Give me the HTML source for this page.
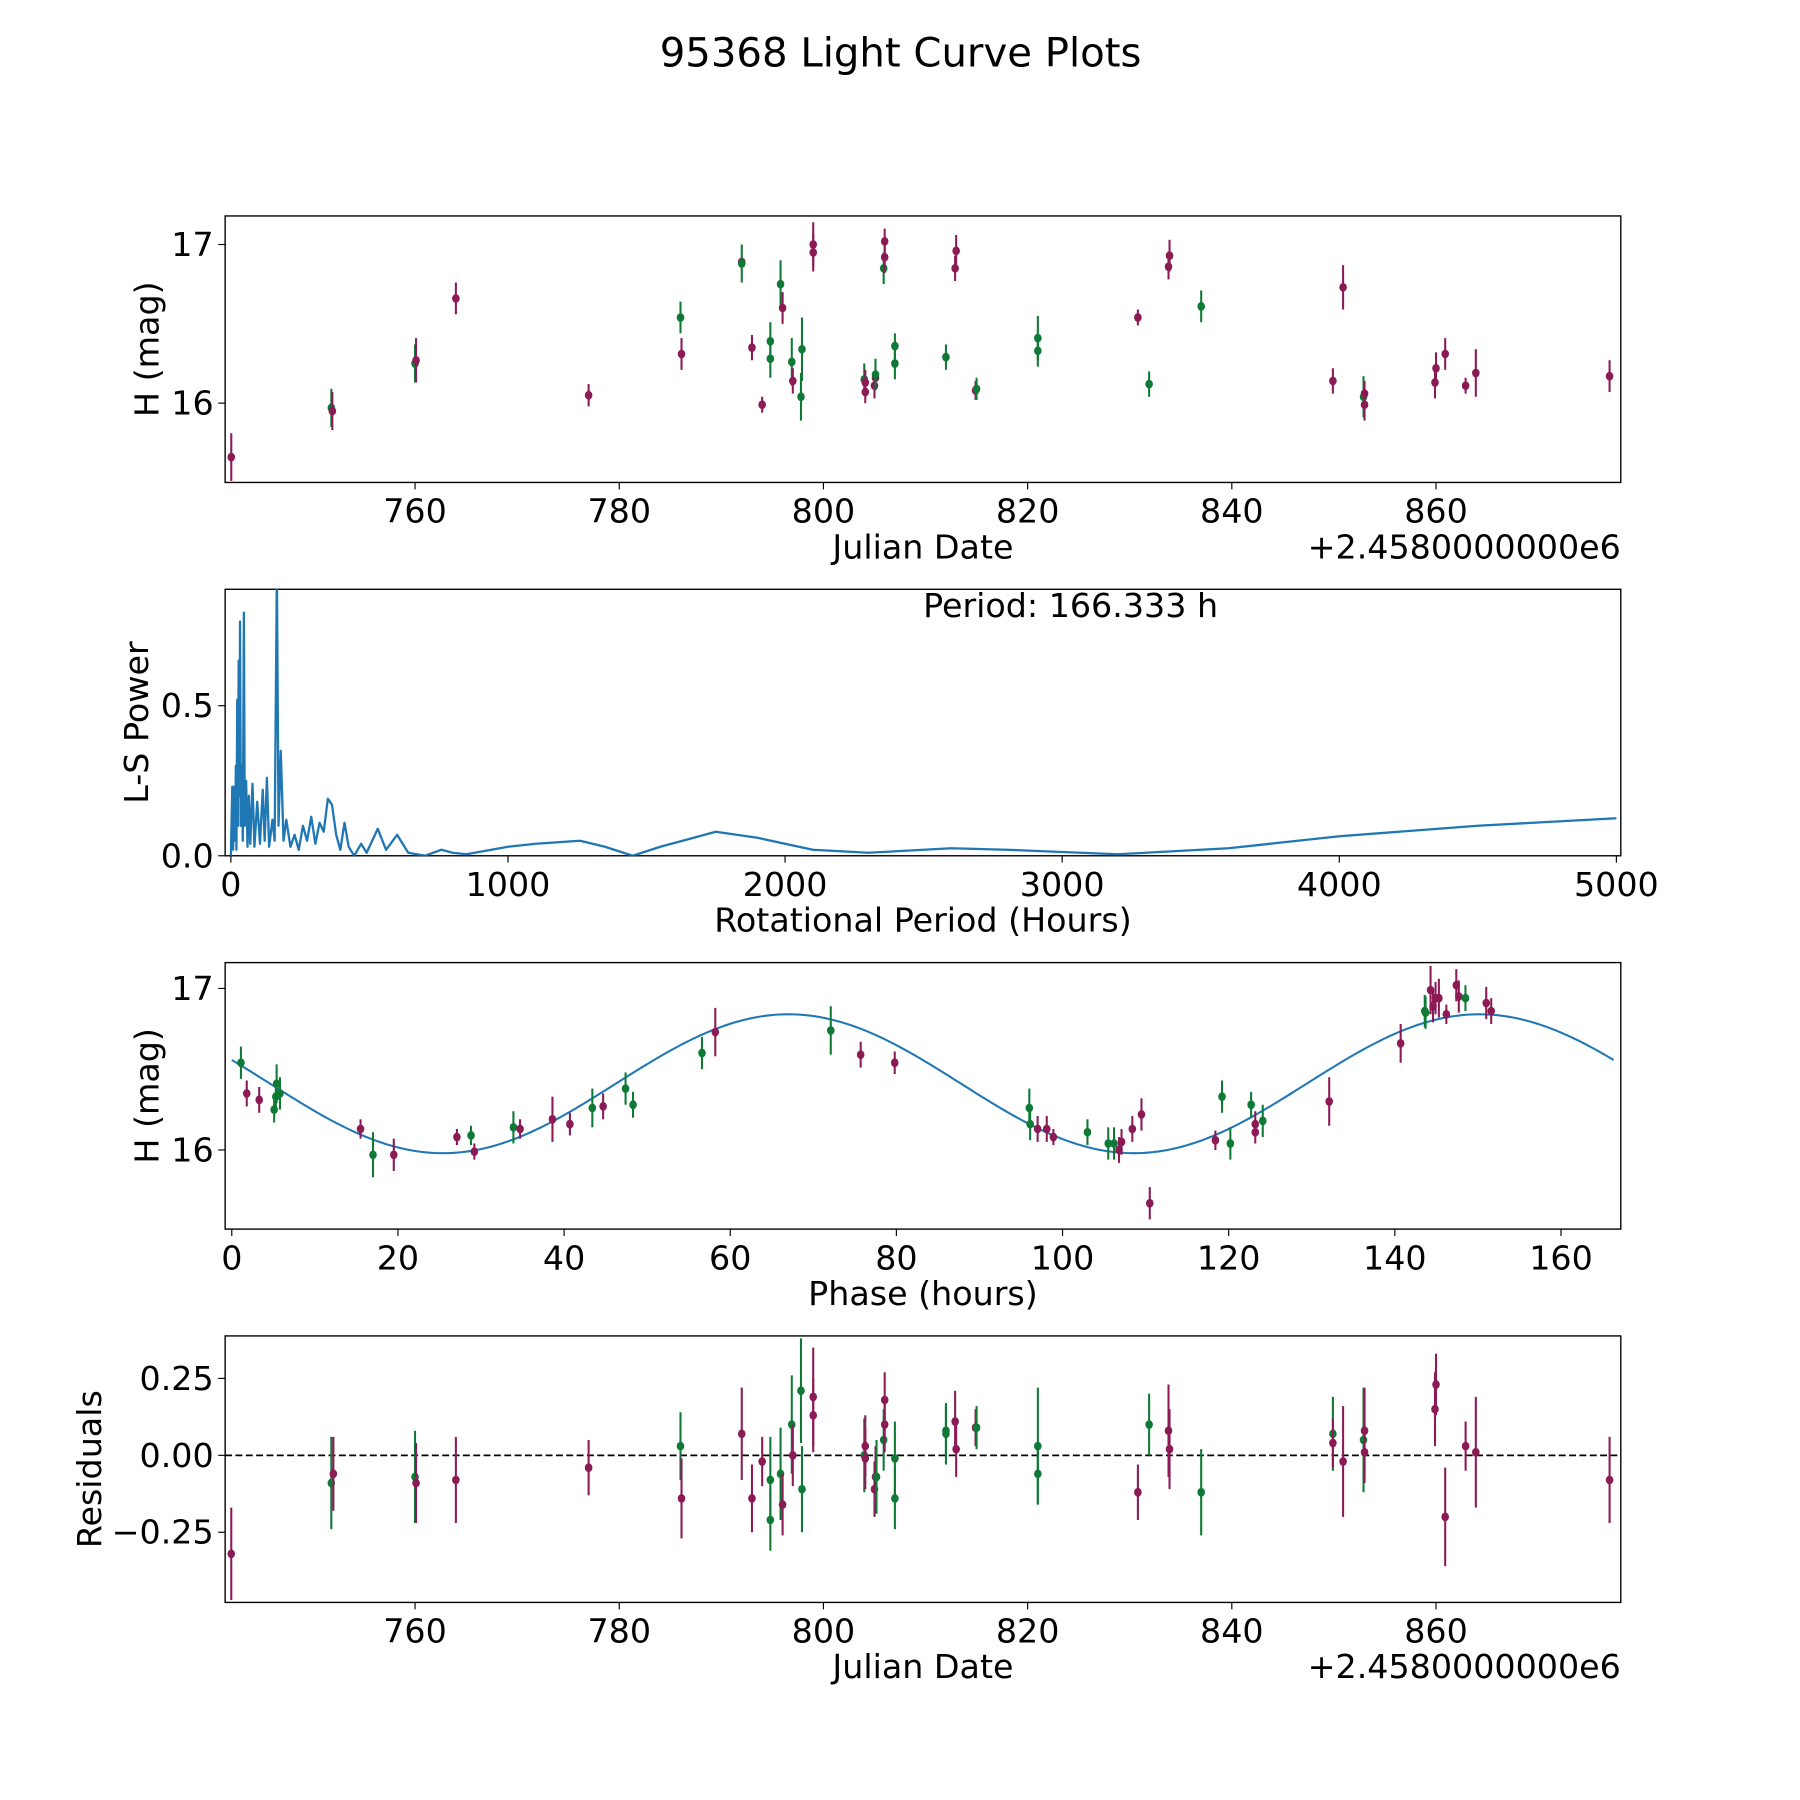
<!DOCTYPE html>
<html><head><meta charset="utf-8"><style>html,body{margin:0;padding:0;background:#fff}svg{display:block}text{font-family:"DejaVu Sans","Liberation Sans",sans-serif;fill:#000}</style></head>
<body>
<svg id="fig" width="1800" height="1800" viewBox="0 0 1567 1567" xmlns="http://www.w3.org/2000/svg">
<rect width="1567" height="1567" fill="#fff"/>
<text x="784" y="58" font-size="35" text-anchor="middle">95368 Light Curve Plots</text>
</svg>
<script>
// Panel 1: light curve vs date
const lcDates=[742.0,751.8,751.9,760.0,760.1,764.0,777.0,786.0,786.1,792.0,792.0,793.0,794.0,794.8,794.8,795.8,796.0,796.9,797.0,797.8,797.9,799.0,799.0,804.0,804.1,804.1,805.0,805.1,805.1,805.9,806.0,806.0,807.0,807.0,812.0,812.9,813.0,814.9,815.0,821.0,821.0,830.8,831.9,833.8,833.9,837.0,849.9,850.9,852.9,853.0,853.0,859.9,860.0,860.9,862.9,863.9,877.0];
const lcMag=[15.66,15.97,15.95,16.25,16.27,16.66,16.05,16.54,16.31,16.89,16.88,16.35,15.99,16.28,16.39,16.75,16.60,16.26,16.14,16.04,16.34,17.00,16.95,16.15,16.13,16.07,16.11,16.16,16.18,16.85,16.92,17.02,16.25,16.36,16.29,16.85,16.96,16.08,16.09,16.33,16.41,16.54,16.12,16.86,16.93,16.61,16.14,16.73,16.04,16.06,15.99,16.13,16.22,16.31,16.11,16.19,16.17];
const lcErr=[0.15,0.12,0.12,0.12,0.14,0.1,0.07,0.1,0.1,0.03,0.12,0.08,0.05,0.12,0.12,0.15,0.1,0.15,0.08,0.15,0.2,0.14,0.12,0.1,0.08,0.07,0.08,0.08,0.1,0.1,0.1,0.08,0.1,0.08,0.08,0.08,0.1,0.06,0.07,0.1,0.14,0.05,0.08,0.08,0.1,0.1,0.08,0.14,0.13,0.08,0.1,0.1,0.1,0.1,0.05,0.15,0.1];
const lcBand=["m","g","m","g","m","m","m","g","m","m","g","m","m","g","g","g","m","g","m","g","g","m","m","g","m","m","m","m","g","g","m","m","g","g","g","m","m","m","g","g","g","m","g","m","m","g","m","m","g","m","m","m","m","m","m","m","m"];
// Panel 2: periodogram
const lsPeriod=[0,5,8,12,15,18,20,23,26,28,31,33,36,40,43,47,50,55,60,65,70,78,85,95,105,115,122,130,138,150,158,166,172,180,190,200,215,230,245,260,275,290,305,320,335,350,365,380,395,410,425,445,470,490,530,560,600,640,700,760,800,850,1000,1100,1260,1350,1450,1550,1750,1900,2100,2300,2600,2800,3200,3600,4000,4500,5000];
const lsPower=[0,0.23,0.02,0.23,0.05,0.3,0.02,0.52,0.1,0.65,0.2,0.78,0.1,0.3,0.05,0.81,0.1,0.25,0.03,0.2,0.04,0.24,0.03,0.18,0.04,0.22,0.05,0.26,0.03,0.12,0.05,0.95,0.1,0.35,0.05,0.12,0.03,0.07,0.02,0.1,0.05,0.13,0.04,0.11,0.08,0.19,0.17,0.07,0.02,0.11,0.03,0.0,0.04,0.01,0.09,0.02,0.07,0.01,0.0,0.02,0.01,0.005,0.03,0.04,0.05,0.03,0.0,0.03,0.08,0.06,0.02,0.01,0.025,0.02,0.005,0.025,0.065,0.1,0.125];
// Panel 3: phased
const phPhase=[1.1,1.8,3.3,5.1,5.3,5.4,5.8,15.5,17.0,19.5,27.1,28.8,29.2,33.9,34.7,38.6,40.7,43.4,44.7,47.4,48.3,56.6,58.2,72.1,75.7,79.8,96.0,96.1,97.0,98.1,98.9,103.0,105.5,106.2,106.8,107.1,108.4,109.5,110.5,118.4,119.2,120.2,122.7,123.2,123.2,124.1,132.1,140.7,143.6,143.7,144.3,144.6,144.9,145.3,146.2,147.4,147.7,148.5,151.0,151.6];
const phMag=[16.54,16.35,16.31,16.25,16.33,16.41,16.35,16.13,15.97,15.97,16.08,16.09,15.99,16.14,16.13,16.19,16.16,16.26,16.27,16.38,16.28,16.60,16.73,16.74,16.59,16.54,16.26,16.16,16.13,16.13,16.08,16.11,16.04,16.04,16.00,16.05,16.13,16.22,15.67,16.06,16.33,16.04,16.28,16.16,16.11,16.18,16.30,16.66,16.86,16.85,16.99,16.89,16.94,16.94,16.84,17.02,16.95,16.94,16.91,16.86];
const phErr=[0.1,0.08,0.08,0.08,0.1,0.12,0.1,0.06,0.14,0.1,0.05,0.06,0.05,0.1,0.06,0.14,0.07,0.12,0.08,0.1,0.08,0.1,0.15,0.15,0.08,0.07,0.12,0.1,0.08,0.08,0.05,0.08,0.1,0.1,0.08,0.08,0.08,0.1,0.1,0.06,0.1,0.1,0.08,0.08,0.07,0.1,0.15,0.12,0.1,0.1,0.15,0.1,0.1,0.12,0.06,0.1,0.1,0.08,0.1,0.08];
const phBand=["g","m","m","g","g","g","g","m","g","m","m","g","m","g","m","m","m","g","m","g","g","g","m","g","m","m","g","g","m","m","m","g","g","g","m","m","m","m","m","m","g","g","g","m","m","g","m","m","g","g","m","m","m","m","m","m","m","g","m","m"];
const fitMean=16.41, fitAmp=0.43, fitPeak=67, fitHalfPeriod=83.17, fitPeriod=166.333;
// Panel 4: residuals
const resDates=[742.0,751.8,752.0,760.0,760.1,764.0,777.0,786.0,786.1,792.0,793.0,794.0,794.8,794.8,795.8,796.0,796.9,797.0,797.8,797.9,799.0,799.0,804.0,804.1,804.1,805.0,805.1,805.2,805.9,806.0,806.0,807.0,807.0,812.0,812.0,812.9,813.0,814.9,815.0,821.0,821.0,830.8,831.9,833.8,833.9,837.0,849.9,849.9,850.9,852.9,853.0,853.0,859.9,860.0,860.9,862.9,863.9,877.0];
const resVal=[-0.32,-0.09,-0.06,-0.07,-0.09,-0.08,-0.04,0.03,-0.14,0.07,-0.14,-0.02,-0.21,-0.08,-0.06,-0.16,0.10,0.00,0.21,-0.11,0.19,0.13,0.00,0.03,-0.01,-0.11,-0.07,-0.07,0.05,0.10,0.18,-0.01,-0.14,0.07,0.08,0.11,0.02,0.09,0.09,0.03,-0.06,-0.12,0.10,0.08,0.02,-0.12,0.07,0.04,-0.02,0.05,0.08,0.01,0.15,0.23,-0.20,0.03,0.01,-0.08];
const resErr=[0.15,0.15,0.12,0.15,0.13,0.14,0.09,0.11,0.13,0.15,0.11,0.08,0.1,0.14,0.15,0.1,0.16,0.1,0.17,0.14,0.16,0.12,0.12,0.1,0.1,0.09,0.1,0.12,0.1,0.09,0.09,0.12,0.1,0.1,0.08,0.1,0.09,0.06,0.07,0.19,0.1,0.09,0.1,0.15,0.13,0.14,0.12,0.08,0.18,0.17,0.14,0.1,0.12,0.1,0.16,0.08,0.18,0.14];
const resBand=["m","g","m","g","m","m","m","g","m","m","m","m","g","g","g","m","g","m","g","g","m","m","g","m","m","m","m","g","g","m","m","g","g","g","g","m","m","m","g","g","g","m","g","m","m","g","g","m","m","g","m","m","m","m","m","m","m","m"];
const dateTicks=[760,780,800,820,840,860];
const magTicks=[16,17];
const lsXTicks=[0,1000,2000,3000,4000,5000];
const lsYTicks=[0.0,0.5];
const phTicks=[0,20,40,60,80,100,120,140,160];
const resTicks=[-0.25,0.00,0.25];

const NS="http://www.w3.org/2000/svg";
const svg=document.getElementById('fig');
const COL={m:"#8b1a55",g:"#0f7a36"};
const FS=29;
function mk(tag,attrs,parent){const e=document.createElementNS(NS,tag);for(const k in attrs)e.setAttribute(k,attrs[k]);(parent||svg).appendChild(e);return e;}
const L=196,R=1411;
function scale(d0,d1,p0,p1){return v=>p0+(v-d0)/(d1-d0)*(p1-p0);}
function panel(name,top,bot,xs,ys,xt,yt,xfmt,yfmt,xlabel,ylabel,ylx,offset){
  const g=mk('g',{});
  
  
  const cp=mk('clipPath',{id:'clip-'+name},g);mk('rect',{x:L,y:top,width:R-L,height:bot-top},cp);
  const frame=mk('rect',{x:L,y:top,width:R-L,height:bot-top,fill:'none',stroke:'#000','stroke-width':1.2},g);
  
  
  xt.forEach(v=>{const x=xs(v);mk('line',{x1:x,x2:x,y1:bot,y2:bot+6,stroke:'#000','stroke-width':1},g);
    const t=mk('text',{x:x,y:bot+35,'font-size':FS,'text-anchor':'middle'},g);t.textContent=xfmt(v);
    
    });
  yt.forEach(v=>{const y=ys(v);mk('line',{x1:L-6,x2:L,y1:y,y2:y,stroke:'#000','stroke-width':1},g);
    const t=mk('text',{x:L-10,y:y+10,'font-size':FS,'text-anchor':'end'},g);t.textContent=yfmt(v);
    
    });
  const xl=mk('text',{x:(L+R)/2,y:bot+66,'font-size':FS,'text-anchor':'middle'},g);xl.textContent=xlabel;
  
  
  const cy=(top+bot)/2;
  const yl=mk('text',{x:ylx,y:cy,'font-size':FS,'text-anchor':'middle',transform:`rotate(-90 ${ylx} ${cy})`},g);yl.textContent=ylabel;
  
  
  if(offset){const o=mk('text',{x:R,y:bot+66,'font-size':FS,'text-anchor':'end'},g);o.textContent=offset;
    
    }
  return mk('g',{'clip-path':`url(#clip-${name})`},g);
}
function points(layer,xsArr,ysArr,es,bs,xs,ys){
  for(let i=0;i<xsArr.length;i++){const x=xs(xsArr[i]),y=ys(ysArr[i]),c=COL[bs[i]];
    const e=mk('line',{x1:x,x2:x,y1:ys(ysArr[i]-es[i]),y2:ys(ysArr[i]+es[i]),stroke:c,'stroke-width':1.8},layer);
    
    
    const p=mk('ellipse',{cx:x,cy:y,rx:3.3,ry:3.8,fill:c},layer);
    
    }
}
// Panel 1
{const xs=scale(741.4,878.1,L,R),ys=scale(15.5,17.18,420,188);
 const ly=panel('light-curve-panel',188,420,xs,ys,dateTicks,magTicks,v=>String(v),v=>String(v),'Julian Date','H (mag)',138,'+2.4580000000e6');
 points(ly,lcDates,lcMag,lcErr,lcBand,xs,ys);}
// Panel 2
{const xs=scale(-20.7,5016,L,R),ys=scale(0,0.888,745,513);
 const ly=panel('periodogram-panel',513,745,xs,ys,lsXTicks,lsYTicks,v=>String(v),v=>v.toFixed(1),'Rotational Period (Hours)','L-S Power',129,null);
 const d=lsPeriod.map((p,i)=>(i?'L':'M')+xs(p).toFixed(2)+' '+ys(lsPower[i]).toFixed(2)).join(' ');
 const pl=mk('path',{d:d,fill:'none',stroke:'#1f77b4','stroke-width':2,'stroke-linejoin':'round'},ly);
 
 
 const t=mk('text',{x:932,y:537,'font-size':FS,'text-anchor':'middle'});t.textContent='Period: '+fitPeriod.toFixed(3)+' h';
 
 }
// Panel 3
{const xs=scale(-0.8,167.2,L,R),ys=scale(15.51,17.16,1070,838);
 const ly=panel('phase-panel',838,1070,xs,ys,phTicks,magTicks,v=>String(v),v=>String(v),'Phase (hours)','H (mag)',138,null);
 let d='';for(let i=0;i<=300;i++){const p=fitPeriod*i/300;const h=fitMean+fitAmp*Math.cos(2*Math.PI*(p-fitPeak)/fitHalfPeriod);d+=(i?'L':'M')+xs(p).toFixed(2)+' '+ys(h).toFixed(2);}
 const fl=mk('path',{d:d,fill:'none',stroke:'#1f77b4','stroke-width':1.8},ly);
 
 
 points(ly,phPhase,phMag,phErr,phBand,xs,ys);}
// Panel 4
{const xs=scale(741.4,878.1,L,R),ys=scale(-0.478,0.388,1395,1163);
 const ly=panel('residuals-panel',1163,1395,xs,ys,dateTicks,resTicks,v=>String(v),v=>(v<0?'\u2212':'')+Math.abs(v).toFixed(2),'Julian Date','Residuals',88,'+2.4580000000e6');
 const z=mk('line',{x1:L,x2:R,y1:ys(0),y2:ys(0),stroke:'#000','stroke-width':1.5,'stroke-dasharray':'6 3'},ly);
 
 
 points(ly,resDates,resVal,resErr,resBand,xs,ys);}
</script>
</body></html>
